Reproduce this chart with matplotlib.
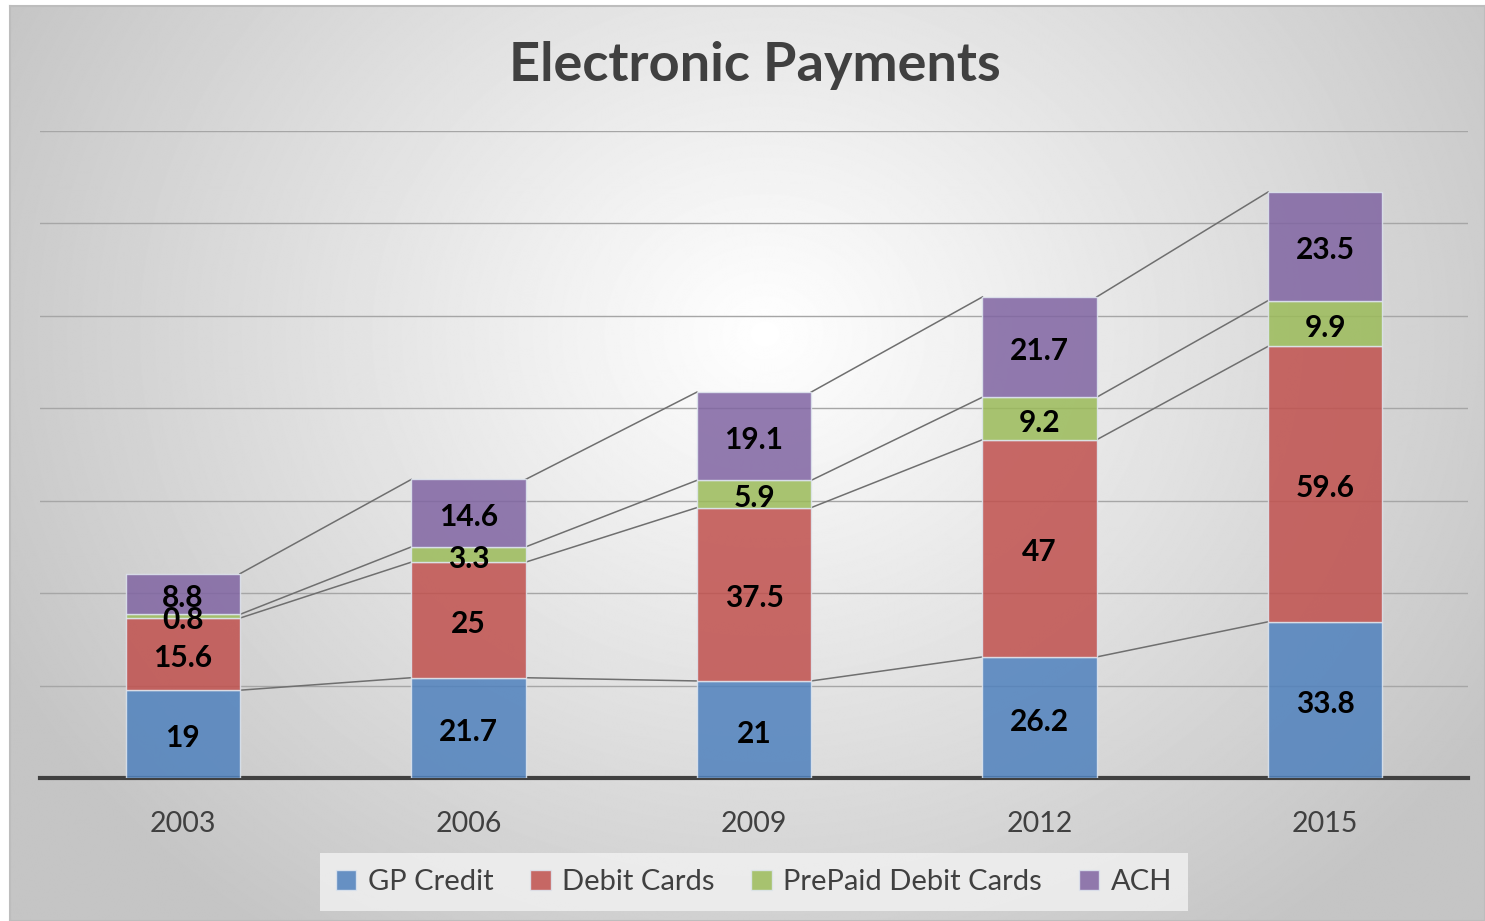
import numpy as np
import matplotlib.pyplot as plt
from matplotlib.patches import Patch

years = ['2003', '2006', '2009', '2012', '2015']
gp_credit = [19, 21.7, 21, 26.2, 33.8]
debit_cards = [15.6, 25, 37.5, 47, 59.6]
prepaid_debit = [0.8, 3.3, 5.9, 9.2, 9.9]
ach = [8.8, 14.6, 19.1, 21.7, 23.5]

series = [
    ('GP Credit', gp_credit, '#4f81bd'),
    ('Debit Cards', debit_cards, '#c0504d'),
    ('PrePaid Debit Cards', prepaid_debit, '#9bbb59'),
    ('ACH', ach, '#8064a2'),
]

plt.rcParams['font.family'] = ['Lato', 'DejaVu Sans']

W, H = 1485, 921
fig = plt.figure(figsize=(W / 100, H / 100), dpi=100)

# radial gradient backdrop for the chart area
bg = fig.add_axes([10 / W, 0, 1 - 10 / W, 1 - 6 / H])
yy, xx = np.mgrid[0:H, 0:W]
r = np.sqrt(((xx - 760) / 900.0) ** 2 + ((yy - 330) / 780.0) ** 2)
shade = np.clip(1.0 - 0.24 * r, 0.77, 1.0)
bg.imshow(shade, cmap='gray', vmin=0, vmax=1, aspect='auto', extent=[0, W, H, 0])
bg.set_xticks([])
bg.set_yticks([])
for s in bg.spines.values():
    s.set_color('#bdbdbd')
    s.set_linewidth(1.5)

ax = fig.add_axes([40 / W, 1 - 778 / H, 1428 / W, (778 - 131) / H])
ax.patch.set_alpha(0)
x = np.arange(len(years))
width = 0.4

ax.set_xlim(-0.5, len(years) - 0.5)
ax.set_ylim(0, 140)
ax.set_yticks(np.arange(20, 141, 20))
ax.yaxis.grid(True, color='#a6a6a6', linewidth=1)
ax.set_axisbelow(True)
ax.tick_params(axis='y', left=False, labelleft=False)
ax.tick_params(axis='x', bottom=False, labelsize=20.5, colors='#404040', pad=20)
ax.set_xticks(x)
ax.set_xticklabels(years)
for side in ['left', 'right', 'top']:
    ax.spines[side].set_visible(False)
ax.spines['bottom'].set_color('#404040')
ax.spines['bottom'].set_linewidth(3)

bottom = np.zeros(len(years))
handles = []
for name, vals, color in series:
    vals = np.array(vals)
    ax.bar(x, vals, width, bottom=bottom, color=color, alpha=0.85,
           edgecolor='#dfe6ef', linewidth=1, zorder=3)
    top = bottom + vals
    # series lines between neighbouring bars
    for i in range(len(years) - 1):
        ax.plot([x[i] + width / 2, x[i + 1] - width / 2], [top[i], top[i + 1]],
                color='#6f6f6f', linewidth=1.1, zorder=2)
    for i, v in enumerate(vals):
        ax.annotate(f'{v:g}', (x[i], bottom[i] + v / 2), xytext=(0, -3),
                    textcoords='offset points', ha='center', va='center',
                    fontsize=21.5, fontweight='bold', color='black', zorder=4)
    handles.append(Patch(facecolor=color, alpha=0.85, edgecolor='#dfe6ef', label=name))
    bottom = top

fig.text(755 / W, 1 - 65 / H, 'Electronic Payments', ha='center', va='center',
         fontsize=39, fontweight='bold', color='#404040')

leg = fig.legend(handles=handles, loc='center', bbox_to_anchor=(754 / W, 1 - 882 / H),
                 ncol=4, fontsize=21, frameon=True, fancybox=False,
                 handlelength=0.7, handleheight=0.7,
                 handletextpad=0.4, columnspacing=1.25, borderpad=0.55)
leg.get_frame().set_facecolor('#f2f2f2')
leg.get_frame().set_edgecolor('none')
leg.get_frame().set_alpha(0.8)
for t in leg.get_texts():
    t.set_color('#404040')

fig.savefig('out.png', dpi=100, facecolor='white')
